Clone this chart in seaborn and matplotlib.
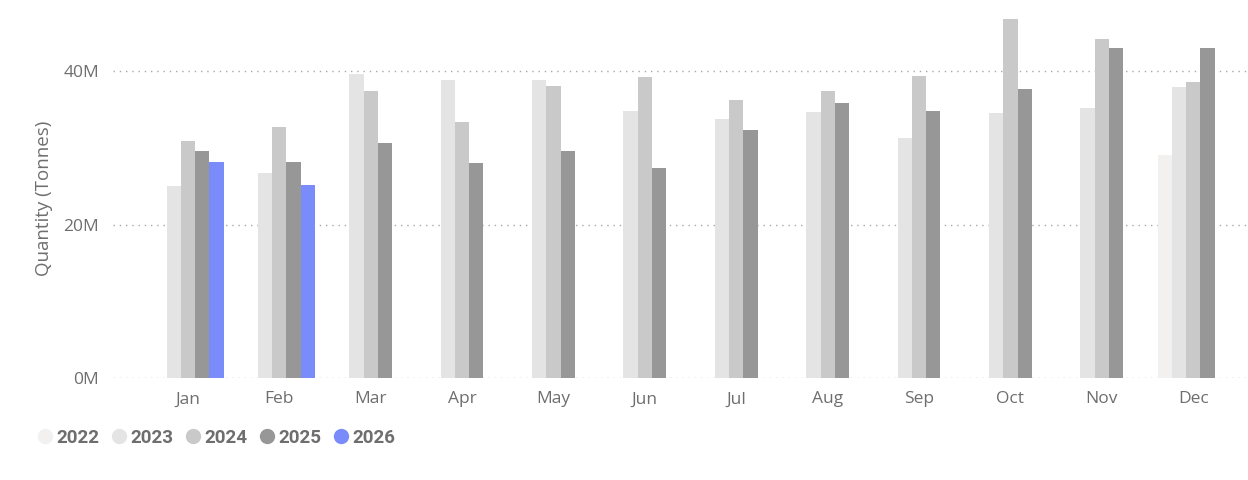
import numpy as np
import pandas as pd
import matplotlib
matplotlib.use("Agg")
import matplotlib.pyplot as plt
from matplotlib.lines import Line2D
import seaborn as sns

months = ["Jan", "Feb", "Mar", "Apr", "May", "Jun", "Jul", "Aug", "Sep", "Oct", "Nov", "Dec"]
years = ["2022", "2023", "2024", "2025", "2026"]
nan = np.nan
q2022 = [nan, nan, nan, nan, nan, nan, nan, nan, nan, nan, nan, 29.1]
q2023 = [25.0, 26.7, 39.6, 38.8, 38.8, 34.8, 33.7, 34.6, 31.2, 34.5, 35.2, 37.9]
q2024 = [30.9, 32.7, 37.4, 33.3, 38.0, 39.2, 36.2, 37.4, 39.3, 46.7, 44.1, 38.6]
q2025 = [29.6, 28.1, 30.6, 28.0, 29.6, 27.3, 32.3, 35.8, 34.8, 37.6, 43.0, 42.9]
q2026 = [28.1, 25.1, nan, nan, nan, nan, nan, nan, nan, nan, nan, nan]
colors = ["#F3F0F0", "#E4E4E4", "#C9C9C9", "#979797", "#7A8BFA"]

series = [q2022, q2023, q2024, q2025, q2026]
rows = []
for y, vals in zip(years, series):
    for m, v in zip(months, vals):
        if not np.isnan(v):
            rows.append({"Month": m, "Year": y, "Qty": v * 1e6})
df = pd.DataFrame(rows)

sns.set_theme(style="white")
plt.rcParams["font.family"] = ["Open Sans", "DejaVu Sans"]

W, H = 1248, 480
fig = plt.figure(figsize=(W / 100, H / 100), dpi=100)
ax_left, ax_right, ax_bottom, ax_top = 113, 1248, 378.3, 0
ax = fig.add_axes([ax_left / W, (H - ax_bottom) / H, (ax_right - ax_left) / W, (ax_bottom - ax_top) / H])

sns.barplot(data=df, x="Month", y="Qty", hue="Year", order=months, hue_order=years,
            palette=colors, width=0.78, gap=0, dodge=True, errorbar=None,
            saturation=1, legend=False, ax=ax, edgecolor="none", linewidth=0)

ax.set_xlim(-0.82, 11.6)
ax.set_ylim(0, 49.2e6)
ax.set_yticks([0, 20e6, 40e6])
ax.set_yticklabels(["0M", "20M", "40M"])
for v in [0, 20e6, 40e6]:
    ax.axhline(v, color="#A8A8A8", linestyle=(0, (1, 3.5)), linewidth=1.0, zorder=0)
for s in ax.spines.values():
    s.set_visible(False)
ax.tick_params(axis="both", length=0, labelcolor="#6E6E6E", labelsize=12.5)
ax.tick_params(axis="y", pad=10)
ax.tick_params(axis="x", pad=9.5)
ax.set_xlabel("")
ax.set_ylabel("Quantity (Tonnes)", color="#6E6E6E", fontsize=13.5)
ax.yaxis.set_label_coords(53 / W, (H - 198.5) / H, transform=fig.transFigure)
ax.set_axisbelow(True)

handles = [Line2D([0], [0], marker="o", linestyle="none", markersize=10,
                  markerfacecolor=c, markeredgecolor=c) for c in colors]
leg = fig.legend(handles, years, loc="center left", bbox_to_anchor=(36 / W, (H - 438) / H),
                 ncol=5, frameon=False, handletextpad=0.1, columnspacing=0.55,
                 handlelength=1.0, borderaxespad=0, borderpad=0,
                 prop={"family": "Roboto", "weight": "bold", "size": 13.5})
for t in leg.get_texts():
    t.set_color("#6E6E6E")

fig.savefig("out.png", dpi=100)
